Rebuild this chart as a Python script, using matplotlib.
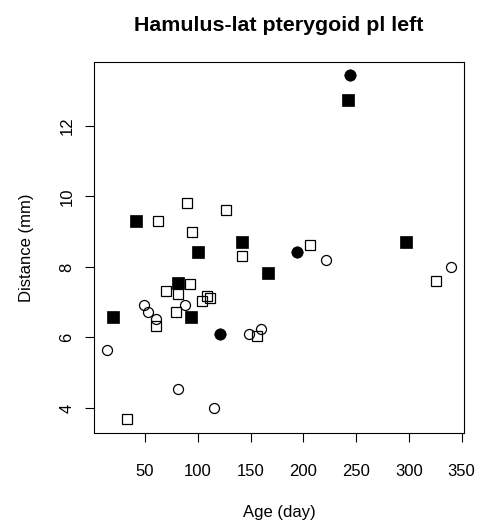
import matplotlib.pyplot as plt
import numpy as np

plt.rcParams['font.family'] = ['Liberation Sans', 'DejaVu Sans']

# values (age in days, distance in mm)
open_sq_age = [62, 90, 126.5, 94.5, 206.4, 141.9, 92.5, 69.9, 81.6, 109.1, 111.6, 104.3, 79.4, 60.4, 155.9, 33.2, 325.5]
open_sq_dist = [9.31, 9.82, 9.62, 9.0, 8.62, 8.32, 7.52, 7.31, 7.22, 7.18, 7.11, 7.02, 6.72, 6.33, 6.05, 3.69, 7.61]

filled_sq_age = [41.5, 142.3, 100.5, 242.1, 166.3, 81.6, 93.6, 19.4, 297.4]
filled_sq_dist = [9.30, 8.70, 8.42, 12.72, 7.82, 7.53, 6.59, 6.59, 8.70]

filled_ci_age = [244.3, 193.8, 121.5]
filled_ci_dist = [13.45, 8.42, 6.10]

open_ci_age = [221.9, 339.8, 49.5, 87.9, 52.8, 60.8, 14.3, 148.9, 159.7, 81.6, 115.7]
open_ci_dist = [8.21, 8.01, 6.93, 6.93, 6.72, 6.53, 5.63, 6.10, 6.23, 4.53, 3.99]

x_ticks = [50, 100, 150, 200, 250, 300, 350]
y_ticks = [4, 6, 8, 10, 12]

W, H = 482, 527
fig = plt.figure(figsize=(W / 100, H / 100), dpi=100)
ax = fig.add_axes([93.5 / W, 1 - 433 / H, (464.3 - 93.5) / W, (433 - 61.7) / H])

ax.plot(open_sq_age, open_sq_dist, 's', ms=7.6, mfc='none', mec='black', mew=0.9, ls='none')
ax.plot(filled_sq_age, filled_sq_dist, 's', ms=8.0, mfc='black', mec='black', mew=0.5, ls='none')
ax.plot(open_ci_age, open_ci_dist, 'o', ms=7.2, mfc='none', mec='black', mew=0.9, ls='none')
ax.plot(filled_ci_age, filled_ci_dist, 'o', ms=8.2, mfc='black', mec='black', mew=0.5, ls='none')

ax.set_xlim(1.2, 352.6)
ax.set_ylim(3.29, 13.82)
ax.set_xticks(x_ticks)
ax.set_yticks(y_ticks)
ax.tick_params(axis='both', direction='out', length=6.8, width=0.8, labelsize=12, colors='black')
ax.tick_params(axis='x', pad=15.5)
ax.tick_params(axis='y', pad=7)
for lab in ax.get_yticklabels():
    lab.set_rotation(90)
    lab.set_va('center')

for s in ax.spines.values():
    s.set_linewidth(0.8)

ax.set_xlabel('Age (day)', fontsize=12, va='center')
ax.xaxis.set_label_coords(0.5, (433 - 512) / (433 - 61.7))
ax.set_ylabel('Distance (mm)', fontsize=12, va='center')
ax.yaxis.set_label_coords((27 - 93.5) / (464.3 - 93.5), 0.5)

fig.text((93.5 + 464.3) / 2 / W, 1 - 31 / H, 'Hamulus-lat pterygoid pl left',
         fontsize=15.4, fontweight='bold', ha='center', va='baseline')

fig.savefig('out.png', dpi=100)
